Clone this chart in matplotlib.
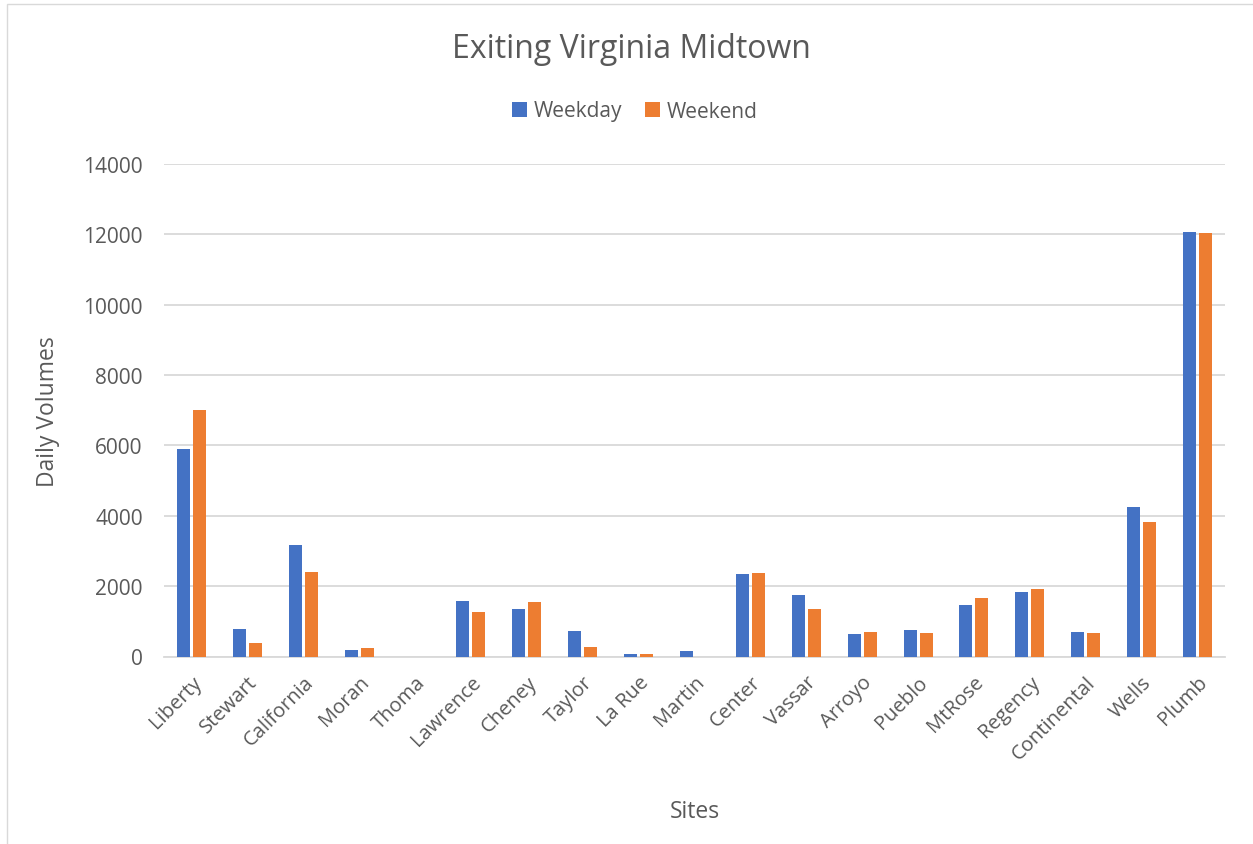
import matplotlib
matplotlib.use("Agg")
import matplotlib.pyplot as plt
import numpy as np
from matplotlib.patches import Rectangle

sites = ["Liberty", "Stewart", "California", "Moran", "Thoma", "Lawrence", "Cheney",
         "Taylor", "La Rue", "Martin", "Center", "Vassar", "Arroyo", "Pueblo",
         "MtRose", "Regency", "Continental", "Wells", "Plumb"]
weekday = [5910, 790, 3160, 195, 0, 1590, 1360, 720, 75, 150, 2350, 1760, 640, 740,
           1470, 1840, 690, 4250, 12080]
weekend = [7000, 390, 2390, 235, 0, 1270, 1560, 265, 75, 0, 2370, 1360, 710, 675,
           1660, 1930, 665, 3810, 12040]
yticks = [0, 2000, 4000, 6000, 8000, 10000, 12000, 14000]

blue = "#4472C4"
orange = "#ED7D31"
text_col = "#595959"
grid_col = "#D9D9D9"

plt.rcParams["font.family"] = ["Open Sans", "DejaVu Sans"]

W, H = 1253, 845
fig = plt.figure(figsize=(W / 100, H / 100), dpi=100)
ax = fig.add_axes([163.6 / W, 1 - 657.5 / H, (1225.4 - 163.6) / W, (657.5 - 165) / H])

x = np.arange(len(sites))
bw = 0.233
off = 0.143
ax.bar(x - off, weekday, bw, color=blue, label="Weekday", zorder=3)
ax.bar(x + off, weekend, bw, color=orange, label="Weekend", zorder=3)

ax.set_xlim(-0.5, len(sites) - 0.5)
ax.set_ylim(0, 14000)
ax.set_yticks(yticks)
ax.set_yticklabels([str(v) for v in yticks], fontsize=15, color=text_col)
ax.yaxis.grid(True, color=grid_col, linewidth=1.3, zorder=0)
ax.set_axisbelow(True)

ax.set_xticks(x)
ax.set_xticklabels(sites, rotation=45, ha="right", rotation_mode="anchor",
                   fontsize=14.5, color=text_col)
ax.tick_params(axis="both", length=0)
ax.tick_params(axis="x", pad=11)
ax.tick_params(axis="y", pad=15)

for s in ["top", "right", "left"]:
    ax.spines[s].set_visible(False)
ax.spines["bottom"].set_color(grid_col)
ax.spines["bottom"].set_linewidth(1.3)

ax.set_xlabel("Sites", fontsize=16.5, color=text_col, labelpad=0)
ax.xaxis.set_label_coords(0.5, -(800 - 657.5) / (657.5 - 165))
ax.set_ylabel("Daily Volumes", fontsize=16.5, color=text_col)
ax.yaxis.set_label_coords(-(163.6 - 60) / (1225.4 - 163.6), 0.5)

fig.text(631 / W, 1 - 50 / H, "Exiting Virginia Midtown", ha="center", va="center",
         fontsize=23, color=text_col)

leg = fig.legend(loc="center", bbox_to_anchor=(635 / W, 1 - 112 / H), ncol=2,
                 frameon=False, fontsize=15, handlelength=0.7, handleheight=0.7,
                 handletextpad=0.35, columnspacing=1.1, labelcolor=text_col)

# chart area border
fig.patches.append(Rectangle((7 / W, -0.01), 1.05, 1 - 5 / H + 0.01,
                             transform=fig.transFigure, fill=False,
                             edgecolor=grid_col, linewidth=1.0))

fig.savefig("out.png", dpi=100, facecolor="white")
